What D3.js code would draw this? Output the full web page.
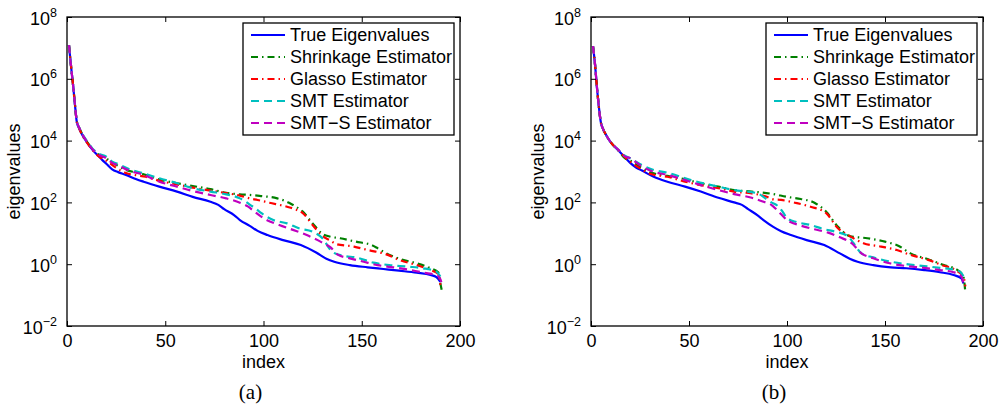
<!DOCTYPE html>
<html>
<head>
<meta charset="utf-8">
<script src="https://cdn.jsdelivr.net/npm/d3@7"></script>
<style>
  html, body { margin: 0; padding: 0; background: #fff; }
  svg { display: block; }
  text { font-family: "Liberation Sans", Arial, Helvetica, sans-serif; fill: #000; }
</style>
</head>
<body>
<svg id="chart" width="1000" height="409"></svg>
<script>
// ---------- Data: panel (a) ----------
const idxTrueA = [1,2,3,4,5,6,7,8,10,13,16,18,20,23,26,30,35,39,47,56,64,73,77,80,85,88,93,97,102,110,119,127,132,136,144,153,161,169,178,185,188,190];
const valTrueA = [1.23e7,2.75e6,7.08e5,1.58e5,3.98e4,2.63e4,1.91e4,1.45e4,9120,5010,3160,2340,1780,1175,955,776,575,468,324,224,151,105,83.2,60.3,38.9,26.9,17.4,12.0,8.81,6.03,4.17,2.34,1.51,1.20,0.933,0.794,0.700,0.617,0.531,0.447,0.380,0.269];

const idxShrinkA = [1,2,3,4,5,6,8,10,13,16,20,25,30,35,39,47,56,64,73,81,88,93,98,107,113,116,120,125,130,134,139,147,155,158,162,170,178,185,189,190,191];
const valShrinkA = [1.23e7,2.75e6,7.08e5,1.58e5,4.17e4,2.82e4,1.51e4,9550,5250,3550,2630,1660,1120,933,813,550,417,339,269,204,182,174,162,135,97.7,75.9,50.1,20.9,9.55,7.76,6.92,5.37,4.17,3.31,2.34,1.45,1.07,0.741,0.537,0.240,0.120];

const idxGlassoA = [1,2,3,4,5,6,8,10,13,16,20,25,30,35,40,47,56,64,73,81,88,93,97,103,112,116,120,125,130,134,137,146,153,162,169,178,185,189,190];
const valGlassoA = [1.23e7,2.75e6,7.08e5,1.58e5,3.98e4,2.63e4,1.41e4,8910,5010,3160,2240,1320,891,759,676,501,380,302,240,200,166,135,120,97.7,72.4,60.3,44.7,18.6,8.13,5.89,4.47,3.72,2.88,2.14,1.38,0.933,0.646,0.479,0.214];

const idxSmtA = [1,2,3,4,5,6,8,10,13,16,20,23,26,32,39,47,56,64,73,81,88,91,93,96,99,105,112,118,125,130,135,141,147,156,164,174,181,188,190];
const valSmtA = [1.23e7,2.75e6,7.08e5,1.58e5,4.17e4,2.82e4,1.58e4,1.0e4,5500,3800,3020,2090,1740,1175,871,603,417,288,224,182,135,105,85.1,63.1,44.7,26.9,20.9,14.5,11.2,6.92,2.51,1.86,1.66,1.12,0.933,0.832,0.741,0.575,0.398];

const idxSmtsA = [1,2,3,4,5,6,8,10,13,16,20,23,26,32,39,47,56,64,73,81,88,92,95,101,108,115,122,129,134,138,144,151,158,166,175,183,188,190,191];
const valSmtsA = [1.23e7,2.75e6,7.08e5,1.58e5,4.17e4,2.82e4,1.51e4,9550,5250,3550,2690,1910,1580,1050,776,468,324,234,174,135,97.7,74.1,52.5,28.2,18.6,12.9,8.81,5.37,3.55,2.00,1.55,1.20,0.933,0.794,0.646,0.513,0.447,0.324,0.191];

// ---------- Data: panel (b) ----------
const idxTrueB = [1,2,3,4,5,6,8,10,14,17,20,23,26,32,39,48,56,65,73,77,80,85,88,93,97,102,110,119,127,132,136,144,153,161,170,178,185,189,190];
const valTrueB = [1.15e7,3.16e6,5.62e5,1.26e5,3.98e4,2.51e4,1.41e4,8910,4790,3020,1910,1350,1070,676,468,324,224,141,100,83.2,61.7,38.0,26.9,16.2,11.7,8.81,6.03,4.17,2.24,1.51,1.20,0.933,0.794,0.741,0.646,0.550,0.447,0.347,0.240];

const idxShrinkB = [1,2,3,4,5,6,8,10,14,17,20,25,30,39,48,56,65,73,82,93,100,107,114,120,126,132,141,150,157,163,172,180,187,190,191];
const valShrinkB = [1.15e7,3.16e6,5.62e5,1.26e5,3.98e4,2.51e4,1.41e4,8910,4790,2820,2240,1410,955,724,562,417,324,251,224,186,151,129,97.7,50.1,16.2,8.13,6.92,5.37,3.89,2.24,1.45,0.933,0.646,0.398,0.120];

const idxGlassoB = [1,2,3,4,5,6,8,10,14,19,25,31,39,48,56,65,73,82,89,93,97,104,112,120,126,132,139,148,156,163,172,179,186,190,191];
const valGlassoB = [1.15e7,3.16e6,5.62e5,1.26e5,3.98e4,2.51e4,1.41e4,8910,4790,2340,1260,813,676,468,363,288,224,195,158,126,120,97.7,72.4,44.7,14.5,8.13,4.79,3.72,2.88,2.00,1.38,0.933,0.646,0.398,0.191];

const idxSmtB = [1,2,3,4,5,6,8,10,14,17,20,26,32,39,51,65,73,85,89,92,95,98,100,105,112,119,125,131,134,138,144,153,161,170,178,186,189,190];
const valSmtB = [1.15e7,3.16e6,5.62e5,1.26e5,3.98e4,2.51e4,1.41e4,8910,5010,3310,2690,1620,1120,912,525,324,251,195,135,100,79.4,47.9,30.9,22.9,18.6,13.5,11.2,8.13,4.79,2.24,1.66,1.20,1.00,0.871,0.759,0.646,0.513,0.398];

const idxSmtsB = [1,2,3,4,5,6,8,10,14,17,20,26,32,39,48,56,65,73,82,88,92,95,100,107,114,121,127,133,138,144,153,161,170,178,185,189,190];
const valSmtsB = [1.15e7,3.16e6,5.62e5,1.26e5,3.98e4,2.51e4,1.41e4,8910,5010,3160,2690,1450,977,776,525,363,251,186,141,105,83.2,56.2,26.9,17.8,13.5,10.5,7.41,4.79,2.24,1.55,1.05,0.871,0.759,0.646,0.550,0.398,0.240];

// ---------- Labels / ticks ----------
const seriesNames = ["True Eigenvalues","Shrinkage Estimator","Glasso Estimator","SMT Estimator","SMT\u2212S Estimator"];
const xTicks = [0,50,100,150,200];
const yTickExps = [-2,0,2,4,6,8];
const xLabel = "index";
const yLabel = "eigenvalues";
const panelCaptions = ["(a)","(b)"];

// ---------- Styles ----------
const styles = [
  {color:"#0000ff", dash:null,         width:2.2},
  {color:"#008000", dash:"7,4,1.5,4",  width:2.2},
  {color:"#ff0000", dash:"7,4,1.5,4",  width:2.2},
  {color:"#00bfbf", dash:"8,5",        width:2.2},
  {color:"#bf00bf", dash:"8,5",        width:2.2}
];

const panels = [
  {left:67, right:460, top:17, bottom:326, caption:panelCaptions[0],
   series:[[idxTrueA,valTrueA],[idxShrinkA,valShrinkA],[idxGlassoA,valGlassoA],[idxSmtA,valSmtA],[idxSmtsA,valSmtsA]]},
  {left:591, right:983, top:17, bottom:326, caption:panelCaptions[1],
   series:[[idxTrueB,valTrueB],[idxShrinkB,valShrinkB],[idxGlassoB,valGlassoB],[idxSmtB,valSmtB],[idxSmtsB,valSmtsB]]}
];

const svg = d3.select("#chart");
const fs = 18;

panels.forEach(p => {
  const x = d3.scaleLinear().domain([0,200]).range([p.left,p.right]);
  const y = d3.scaleLog().domain([1e-2,1e8]).range([p.bottom,p.top]);
  const g = svg.append("g");

  const clipId = "clip" + p.left;
  svg.append("clipPath").attr("id", clipId).append("rect")
    .attr("x", p.left).attr("y", p.top).attr("width", p.right-p.left).attr("height", p.bottom-p.top);

  const line = d3.line().x(d => x(d[0])).y(d => y(d[1])).curve(d3.curveMonotoneX);
  p.series.forEach((s, i) => {
    const pts = s[0].map((k, j) => [k, s[1][j]]);
    g.append("path").datum(pts)
      .attr("d", line)
      .attr("fill","none")
      .attr("stroke", styles[i].color)
      .attr("stroke-width", styles[i].width)
      .attr("stroke-dasharray", styles[i].dash)
      .attr("stroke-linejoin","round")
      .attr("clip-path", `url(#${clipId})`);
  });

  g.append("rect").attr("x",p.left).attr("y",p.top)
    .attr("width",p.right-p.left).attr("height",p.bottom-p.top)
    .attr("fill","none").attr("stroke","#000").attr("stroke-width",1.3);

  const tickVals = yTickExps.map(e => Math.pow(10,e));
  const axB = d3.axisBottom(x).tickValues(xTicks).tickSizeInner(-5).tickSizeOuter(0).tickPadding(8).tickFormat(d3.format("d"));
  const axT = d3.axisTop(x).tickValues(xTicks).tickSizeInner(-5).tickSizeOuter(0).tickFormat("");
  const axL = d3.axisLeft(y).tickValues(tickVals).tickSizeInner(-5).tickSizeOuter(0).tickFormat("");
  const axR = d3.axisRight(y).tickValues(tickVals).tickSizeInner(-5).tickSizeOuter(0).tickFormat("");

  const gb = g.append("g").attr("transform",`translate(0,${p.bottom})`).call(axB);
  const gt = g.append("g").attr("transform",`translate(0,${p.top})`).call(axT);
  const gl = g.append("g").attr("transform",`translate(${p.left},0)`).call(axL);
  const gr = g.append("g").attr("transform",`translate(${p.right},0)`).call(axR);
  [gb,gt,gl,gr].forEach(a => {
    a.select(".domain").remove();
    a.selectAll(".tick line").attr("stroke","#000").attr("stroke-width",1);
  });
  gb.selectAll(".tick text").attr("font-size",fs).attr("font-family",'"Liberation Sans", Arial, sans-serif').attr("fill","#000");

  gl.selectAll(".tick").each(function(d) {
    const e = Math.round(Math.log10(d));
    const t = d3.select(this).append("text")
      .attr("x",-10).attr("y",7).attr("text-anchor","end")
      .attr("font-size",fs).attr("fill","#000");
    t.append("tspan").text("10");
    t.append("tspan").attr("font-size",12.5).attr("dy",-8).text(e < 0 ? "\u2212" + Math.abs(e) : String(e));
  });

  svg.append("text").attr("x",(p.left+p.right)/2).attr("y",367.5)
    .attr("text-anchor","middle").attr("font-size",fs).text(xLabel);
  svg.append("text")
    .attr("transform",`translate(${p.left-47},${(p.top+p.bottom)/2}) rotate(-90)`)
    .attr("text-anchor","middle").attr("font-size",fs).text(yLabel);
  svg.append("text").attr("x",(p.left+p.right)/2 - 13).attr("y",399)
    .attr("text-anchor","middle").attr("font-size",21)
    .style("font-family",'"Liberation Serif", "Times New Roman", serif')
    .text(p.caption);

  const lx = p.right - 217, ly = p.top + 6, lw = 211, lh = 112;
  const lg = svg.append("g");
  lg.append("rect").attr("x",lx).attr("y",ly).attr("width",lw).attr("height",lh)
    .attr("fill","#fff").attr("stroke","#000").attr("stroke-width",1.3);
  seriesNames.forEach((name,i) => {
    const ry = ly + 12 + i*22;
    lg.append("line").attr("x1",lx+8).attr("x2",lx+42).attr("y1",ry).attr("y2",ry)
      .attr("stroke",styles[i].color).attr("stroke-width",styles[i].width)
      .attr("stroke-dasharray",styles[i].dash);
    lg.append("text").attr("x",lx+47).attr("y",ry+6).attr("font-size",fs).text(name);
  });
});
</script>
</body>
</html>
